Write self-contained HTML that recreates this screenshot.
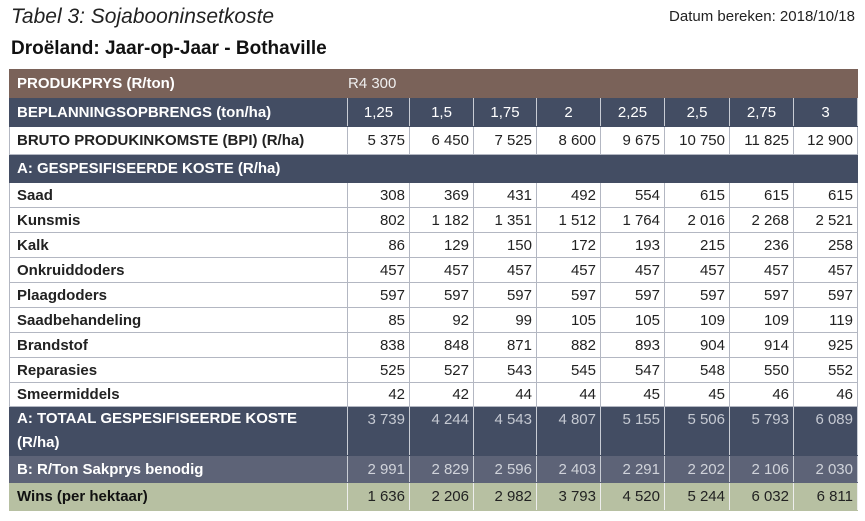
<!DOCTYPE html><html><head><meta charset="utf-8"><style>
body{margin:0;width:865px;height:521px;background:#fff;font-family:"Liberation Sans",sans-serif;position:relative;overflow:hidden}
.t1{position:absolute;left:11px;top:5px;font-size:21px;font-style:italic;color:#222}
.dt{position:absolute;right:10px;top:8px;font-size:15px;color:#222}
.t2{position:absolute;left:11px;top:38px;font-size:19px;font-weight:bold;color:#111}
table{position:absolute;left:9px;top:69px;border-collapse:collapse;table-layout:fixed;width:848px;font-size:15px}
td{border:1px solid #b3b7c2;padding:0 4px;text-align:right;white-space:nowrap;overflow:hidden}
td:first-child{text-align:left;font-weight:bold;padding-left:7px}
.br td{background:#7a6259;color:#eee;border-color:#7a6259}
.nv td{background:#434d63;color:#fff;border-color:#434d63;border-right-color:#c8ccd4}
.nv td:first-child,.br td:first-child{color:#fff}
.hd td{text-align:center}
.hd td:first-child{text-align:left}
.tot td{color:#c5c9d2}
.b td{background:#5d6377;color:#d0d3da;border-color:#5d6377;border-right-color:#c8ccd4}
.b td:first-child{color:#fff}
.w td{background:#b7c0a2;color:#222;border-color:#b7c0a2;border-right-color:#eee}
.w td:first-child{color:#111}
.wh td{color:#222}
</style></head><body>
<div class="t1">Tabel 3: Sojabooninsetkoste</div>
<div class="dt">Datum bereken: 2018/10/18</div>
<div class="t2">Droëland: Jaar-op-Jaar - Bothaville</div>
<table>
<colgroup><col style="width:338px"><col style="width:62px"><col style="width:64px"><col style="width:63px"><col style="width:64px"><col style="width:64px"><col style="width:65px"><col style="width:64px"><col style="width:64px"></colgroup>
<tr class="br" style="height:28px"><td>PRODUKPRYS (R/ton)</td><td colspan="8" style="text-align:left;padding-left:0">R4 300</td></tr>
<tr class="nv hd" style="height:29px"><td>BEPLANNINGSOPBRENGS (ton/ha)</td><td>1,25</td><td>1,5</td><td>1,75</td><td>2</td><td>2,25</td><td>2,5</td><td>2,75</td><td>3</td></tr>
<tr class="wh" style="height:28px;font-weight:bold"><td>BRUTO PRODUKINKOMSTE (BPI) (R/ha)</td><td style="font-weight:normal">5 375</td><td style="font-weight:normal">6 450</td><td style="font-weight:normal">7 525</td><td style="font-weight:normal">8 600</td><td style="font-weight:normal">9 675</td><td style="font-weight:normal">10 750</td><td style="font-weight:normal">11 825</td><td style="font-weight:normal">12 900</td></tr>
<tr class="nv" style="height:28px"><td colspan="9" style="border-right-color:#434d63">A: GESPESIFISEERDE KOSTE (R/ha)</td></tr>
<tr class="wh" style="height:25px"><td>Saad</td><td>308</td><td>369</td><td>431</td><td>492</td><td>554</td><td>615</td><td>615</td><td>615</td></tr>
<tr class="wh" style="height:25px"><td>Kunsmis</td><td>802</td><td>1 182</td><td>1 351</td><td>1 512</td><td>1 764</td><td>2 016</td><td>2 268</td><td>2 521</td></tr>
<tr class="wh" style="height:25px"><td>Kalk</td><td>86</td><td>129</td><td>150</td><td>172</td><td>193</td><td>215</td><td>236</td><td>258</td></tr>
<tr class="wh" style="height:25px"><td>Onkruiddoders</td><td>457</td><td>457</td><td>457</td><td>457</td><td>457</td><td>457</td><td>457</td><td>457</td></tr>
<tr class="wh" style="height:25px"><td>Plaagdoders</td><td>597</td><td>597</td><td>597</td><td>597</td><td>597</td><td>597</td><td>597</td><td>597</td></tr>
<tr class="wh" style="height:25px"><td>Saadbehandeling</td><td>85</td><td>92</td><td>99</td><td>105</td><td>105</td><td>109</td><td>109</td><td>119</td></tr>
<tr class="wh" style="height:25px"><td>Brandstof</td><td>838</td><td>848</td><td>871</td><td>882</td><td>893</td><td>904</td><td>914</td><td>925</td></tr>
<tr class="wh" style="height:25px"><td>Reparasies</td><td>525</td><td>527</td><td>543</td><td>545</td><td>547</td><td>548</td><td>550</td><td>552</td></tr>
<tr class="wh" style="height:24px"><td>Smeermiddels</td><td>42</td><td>42</td><td>44</td><td>44</td><td>45</td><td>45</td><td>46</td><td>46</td></tr>
<tr class="nv tot" style="height:49px;vertical-align:top"><td style="line-height:24px;padding-top:0">A: TOTAAL GESPESIFISEERDE KOSTE<br>(R/ha)</td><td style="padding-top:4px">3 739</td><td style="padding-top:4px">4 244</td><td style="padding-top:4px">4 543</td><td style="padding-top:4px">4 807</td><td style="padding-top:4px">5 155</td><td style="padding-top:4px">5 506</td><td style="padding-top:4px">5 793</td><td style="padding-top:4px">6 089</td></tr>
<tr class="b" style="height:27px"><td>B: R/Ton Sakprys benodig</td><td>2 991</td><td>2 829</td><td>2 596</td><td>2 403</td><td>2 291</td><td>2 202</td><td>2 106</td><td>2 030</td></tr>
<tr class="w" style="height:28px"><td>Wins (per hektaar)</td><td>1 636</td><td>2 206</td><td>2 982</td><td>3 793</td><td>4 520</td><td>5 244</td><td>6 032</td><td>6 811</td></tr>
</table>
</body></html>
